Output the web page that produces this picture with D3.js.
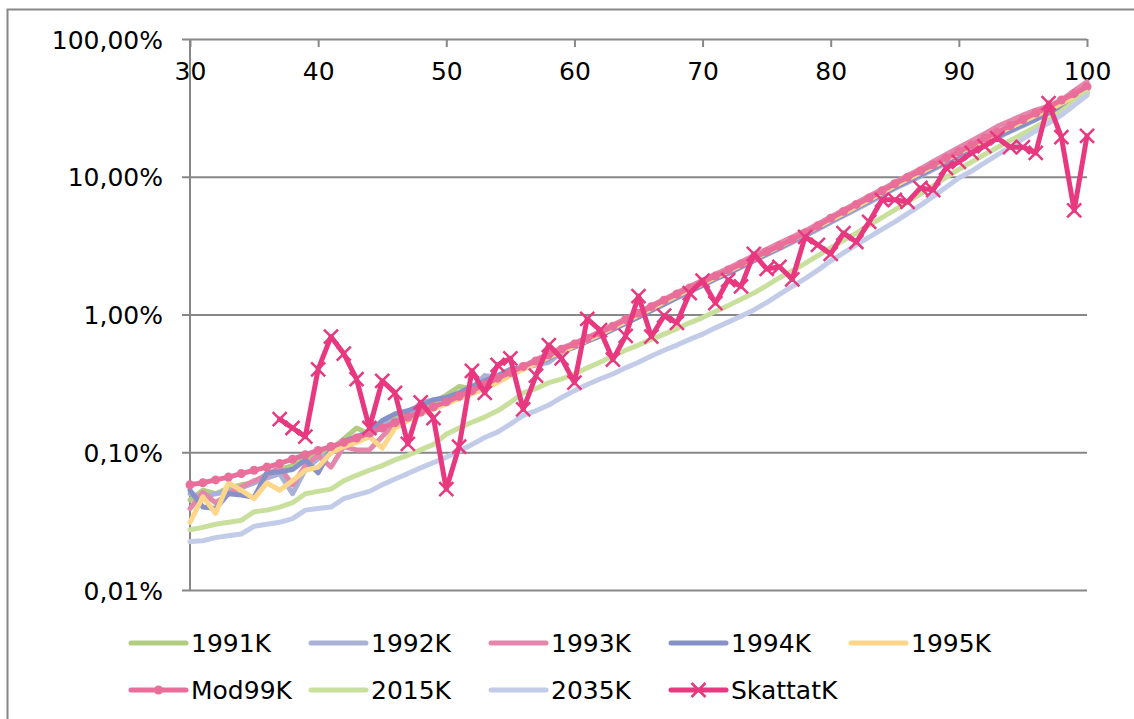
<!DOCTYPE html>
<html>
<head>
<meta charset="utf-8">
<script src="https://cdn.jsdelivr.net/npm/d3@7"></script>
<style>
  body { margin: 0; background: #fff; }
  text { font-family: "DejaVu Sans", Verdana, sans-serif; fill: #000; }
</style>
</head>
<body>
<svg id="chart" width="1134" height="719"></svg>
<script>
// ages on the x axis
var ages = d3.range(30, 101);

// mortality per age, in percent
var s1991 = [.045,.053,.050,.055,.058,.060,.070,.075,.080,.090,
  .095,.105,.125,.150,.135,.160,.175,.190,.210,.230,
  .260,.300,.290,.310,.340,.370,.400,.440,.490,.530,
  .58,.64,.71,.78,.87,.97,1.08,1.20,1.34,1.48,
  1.64,1.82,2.02,2.25,2.50,2.78,3.1,3.45,3.85,4.3,
  4.85,5.4,6.1,6.8,7.6,8.5,9.4,10.4,11.6,12.9,
  14.4,16.0,17.8,19.7,21.8,24,26.5,29.5,33,37, 42];
var s1992 = [.050,.047,.050,.052,.055,.060,.065,.070,.050,.075,
  .090,.100,.110,.120,.130,.160,.170,.180,.230,.240,
  .250,.260,.290,.360,.350,.370,.410,.430,.450,.530,
  .59,.64,.70,.78,.88,.96,1.07,1.18,1.32,1.46,
  1.62,1.80,1.98,2.2,2.45,2.72,3.0,3.35,3.72,4.15,
  4.65,5.2,5.8,6.5,7.3,8.2,9.1,10.1,11.3,12.6,
  14.0,15.6,17.3,19.2,21.3,23.5,26,29,32,36, 40];
var s1993 = [.039,.051,.043,.050,.056,.062,.068,.078,.058,.080,
  .095,.078,.110,.104,.104,.130,.160,.175,.190,.210,
  .230,.250,.270,.300,.340,.380,.420,.470,.520,.570,
  .62,.68,.75,.84,.93,1.04,1.16,1.29,1.44,1.60,
  1.77,1.96,2.17,2.41,2.68,2.97,3.3,3.65,4.05,4.55,
  5.1,5.75,6.45,7.25,8.1,9.1,10.2,11.4,12.9,14.5,
  16.3,18.3,20.5,23.2,25.5,28,30.5,32.5,36,42, 49];
var s1994 = [.053,.040,.039,.050,.049,.047,.071,.072,.075,.088,
  .071,.105,.120,.130,.140,.170,.190,.200,.218,.240,
  .250,.270,.300,.330,.360,.400,.410,.440,.480,.540,
  .58,.64,.70,.78,.86,.96,1.07,1.19,1.33,1.48,
  1.64,1.82,2.0,2.22,2.48,2.75,3.05,3.4,3.8,4.25,
  4.75,5.3,5.95,6.65,7.45,8.35,9.3,10.3,11.5,12.8,
  14.3,15.9,17.7,19.6,21.6,23.8,26.2,29,32.5,36.5, 41];
var s1995 = [.031,.0475,.036,.060,.053,.046,.060,.053,.062,.074,
  .078,.099,.110,.118,.130,.107,.150,.170,.190,.205,
  .225,.245,.265,.290,.320,.360,.400,.440,.490,.540,
  .59,.65,.72,.80,.89,.99,1.10,1.23,1.37,1.52,
  1.68,1.86,2.06,2.28,2.54,2.82,3.12,3.48,3.88,4.33,
  4.85,5.4,6.05,6.8,7.65,8.6,9.6,10.7,11.9,13.3,
  14.9,16.6,18.5,20.6,22.8,25.2,27.8,30.5,34,38, 43];
var mod99 = [.058,.060,.063,.066,.070,.074,.078,.083,.089,.096,
  .103,.110,.118,.127,.138,.150,.164,.180,.196,.214,
  .232,.255,.280,.31,.345,.38,.42,.46,.51,.56,
  .61,.67,.74,.82,.92,1.02,1.14,1.27,1.41,1.56,
  1.72,1.90,2.10,2.33,2.58,2.85,3.15,3.5,3.9,4.4,
  5.0,5.6,6.3,7.0,7.9,8.9,9.9,11.0,12.2,13.6,
  15.2,17.0,19.0,21.0,23.5,26,29,32,36,40, 45];
var s2015 = [.0274,.0285,.0300,.031,.032,.037,.038,.040,.043,.050,
  .052,.054,.062,.068,.074,.080,.088,.095,.104,.114,
  .135,.150,.165,.180,.200,.230,.270,.290,.320,.340,
  .37,.41,.45,.50,.55,.60,.66,.72,.79,.87,
  .95,1.05,1.16,1.29,1.43,1.62,1.85,2.08,2.35,2.68,
  3.05,3.45,3.9,4.45,5.05,5.75,6.55,7.5,8.6,9.9,
  11.3,12.8,14.5,16.3,18.3,20.5,23,26,30,35, 41];
var s2035 = [.0225,.0228,.0240,.0248,.0255,.029,.030,.031,.033,.038,
  .039,.040,.046,.049,.052,.058,.064,.070,.077,.084,
  .092,.102,.114,.128,.140,.160,.185,.200,.220,.250,
  .28,.31,.34,.37,.41,.45,.50,.55,.60,.66,
  .72,.80,.88,.97,1.08,1.22,1.40,1.60,1.82,2.10,
  2.45,2.8,3.2,3.65,4.15,4.7,5.4,6.2,7.2,8.4,
  9.8,11.0,12.6,14.4,16.4,18.8,21.5,24.5,28,33, 39];
var skattat = [null,null,null,null,null,null,null,.174,.15,.13,
  .40,.69,.52,.34,.15,.33,.27,.115,.23,.177,
  .054,.11,.39,.27,.43,.48,.205,.36,.60,.48,
  .32,.93,.77,.47,.70,1.36,.69,.98,.87,1.43,
  1.76,1.21,1.78,1.6,2.75,2.14,2.22,1.8,3.66,3.2,
  2.75,3.9,3.36,4.7,6.8,6.8,6.56,8.3,8.0,11.6,
  12.8,14.9,16.7,19.1,16.4,16.4,14.9,34.3,19.4,5.7, 19.8];

var yTicks = [100, 10, 1, 0.1, 0.01];
var xTicks = [30, 40, 50, 60, 70, 80, 90, 100];

var series = [
  {name: "1991K", values: s1991, color: "#b2cd80"},
  {name: "1992K", values: s1992, color: "#a9b2d6"},
  {name: "1993K", values: s1993, color: "#e487aa"},
  {name: "1994K", values: s1994, color: "#8591c7"},
  {name: "1995K", values: s1995, color: "#fdd68a"},
  {name: "Mod99K", values: mod99, color: "#e96f9a", marker: "dot"},
  {name: "2015K", values: s2015, color: "#c9e09d"},
  {name: "2035K", values: s2035, color: "#c2cce8"},
  {name: "SkattatK", values: skattat, color: "#e8387f", marker: "x"}
];

var svg = d3.select("#chart");
var gridColor = "#878787";

// outer chart border
svg.append("rect")
  .attr("x", 7.5).attr("y", 9.5)
  .attr("width", 1140).attr("height", 720)
  .attr("fill", "none").attr("stroke", gridColor).attr("stroke-width", 2);

var x = d3.scaleLinear().domain([30, 100]).range([190, 1087]);
var y = d3.scaleLog().domain([0.01, 100]).range([590, 39]);

var fmt = function(d) { return d3.format(".2f")(d).replace(".", ",") + "%"; };

// y axis with gridlines
var yAxis = d3.axisLeft(y).tickValues(yTicks).tickFormat(fmt)
  .tickSize(-(1087 - 190)).tickPadding(18);
var gy = svg.append("g").attr("transform", "translate(190,0)").call(yAxis);
gy.select(".domain").remove();
gy.selectAll(".tick line").attr("stroke", gridColor).attr("stroke-width", 2)
  .attr("x1", -8);
gy.selectAll(".tick text").attr("font-size", 25).attr("dy", "0.36em")
  .attr("x", -27);
svg.append("line").attr("x1", 190).attr("x2", 190).attr("y1", 39).attr("y2", 590)
  .attr("stroke", gridColor).attr("stroke-width", 2);

// x axis sits on the top (100%) line, ticks pointing down
var xAxis = d3.axisBottom(x).tickValues(xTicks).tickFormat(d3.format("d"))
  .tickSize(8).tickPadding(15);
var gx = svg.append("g").attr("transform", "translate(0,39)").call(xAxis);
gx.select(".domain").remove();
gx.selectAll(".tick line").attr("stroke", gridColor).attr("stroke-width", 2);
gx.selectAll(".tick text").attr("font-size", 25);

var line = d3.line()
  .defined(function(d) { return d != null; })
  .x(function(d, i) { return x(ages[i]); })
  .y(function(d) { return y(d); });

var xMark = "M-7,-7L7,7M-7,7L7,-7";

series.forEach(function(s) {
  var g = svg.append("g");
  g.append("path")
    .attr("d", line(s.values))
    .attr("fill", "none")
    .attr("stroke", s.color)
    .attr("stroke-width", 5)
    .attr("stroke-linejoin", "round")
    .attr("stroke-linecap", "round");
  var pts = s.values.map(function(v, i) { return {a: ages[i], v: v}; })
    .filter(function(p) { return p.v != null; });
  if (s.marker == "dot") {
    g.selectAll("circle").data(pts).enter().append("circle")
      .attr("cx", function(p) { return x(p.a); })
      .attr("cy", function(p) { return y(p.v); })
      .attr("r", 4.5).attr("fill", s.color);
  }
  if (s.marker == "x") {
    g.selectAll(".mk").data(pts).enter().append("path")
      .attr("d", xMark)
      .attr("transform", function(p) { return "translate(" + x(p.a) + "," + y(p.v) + ")"; })
      .attr("stroke", s.color).attr("stroke-width", 2.5).attr("fill", "none");
  }
});

// legend, 5 per row
var leg = svg.append("g");
series.forEach(function(s, i) {
  var lx = 131 + (i % 5) * 180;
  var ly = i < 5 ? 643 : 690;
  var it = leg.append("g").attr("transform", "translate(" + lx + "," + ly + ")");
  it.append("line").attr("x1", 0).attr("x2", 55).attr("y1", 0).attr("y2", 0)
    .attr("stroke", s.color).attr("stroke-width", 5).attr("stroke-linecap", "round");
  if (s.marker == "dot") it.append("circle").attr("cx", 27.5).attr("r", 4.5).attr("fill", s.color);
  if (s.marker == "x") it.append("path").attr("d", xMark)
    .attr("transform", "translate(27.5,0)")
    .attr("stroke", s.color).attr("stroke-width", 2.5);
  it.append("text").attr("x", 60).attr("y", 0).attr("dy", "0.36em")
    .attr("font-size", 25).text(s.name);
});
</script>
</body>
</html>
